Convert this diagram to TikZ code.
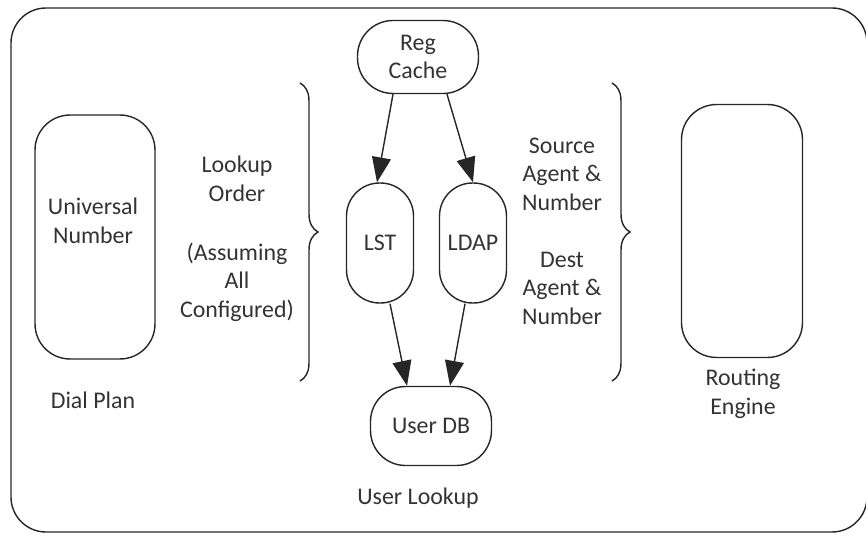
\documentclass[tikz,border=0pt]{standalone}
\usepackage{fontspec}
\setmainfont{Carlito}
\usetikzlibrary{arrows.meta,decorations.pathreplacing}

\begin{document}
\begin{tikzpicture}[x=0.02cm,y=-0.02cm,line width=0.8pt,
  font=\fontsize{13.6}{16.2}\selectfont,
  box/.style={draw=black!85,rounded corners=#1,inner sep=0pt,align=center,text=black!80},
  box/.default=0.7cm,
  lbl/.style={align=center,text=black!80},
  arr/.style={-{Triangle[length=0.5cm,width=0.38cm]},draw=black!85},
  curly/.style={decorate,decoration={brace,amplitude=0.36cm},draw=black!85}]
\useasboundingbox (0,0) rectangle (866,537);
\draw[black!85,rounded corners=0.7cm] (11,8) rectangle (867,532);

% lookup chain
\node[box=0.71cm,minimum width=2.42cm,minimum height=1.46cm] (regcache) at (418,57) {Reg\\Cache};
\node[box=0.66cm,minimum width=1.34cm,minimum height=2.4cm] (lst) at (380,243) {LST};
\node[box=0.66cm,minimum width=1.34cm,minimum height=2.4cm] (ldap) at (473,243) {LDAP};
\node[box,minimum width=2.42cm,minimum height=1.58cm] (userdb) at (431,426) {User DB};

% side boxes
\node[box,minimum width=2.4cm,minimum height=4.88cm] (dialbox) at (95,237) {};
\node[box,minimum width=2.42cm,minimum height=5.06cm] (routebox) at (742,231) {};

\node[lbl] (univ) at (93,221) {Universal\\Number};
\node[lbl] (dialplan) at (93,400) {Dial Plan};
\node[lbl] (routing) at (743,394) {Routing\\Engine};
\node[lbl] (userlookup) at (418,498) {User Lookup};
\node[lbl] (lookup) at (237,179) {Lookup\\Order};
\node[lbl] (assume) at (237,282) {(Assuming\\All\\Configured)};
\node[lbl] (source) at (562,174) {Source\\Agent \&\\Number};
\node[lbl] (dest) at (562,288) {Dest\\Agent \&\\Number};

\draw[curly] (300,83) -- (300,381);
\draw[curly] (612,83) -- (612,381);

\draw[arr] ([xshift=-0.5cm]regcache.south) -- ([xshift=-0.06cm]lst.north);
\draw[arr] ([xshift=0.58cm]regcache.south) -- (ldap.north);
\draw[arr] ([xshift=0.2cm]lst.south) -- ([xshift=-0.48cm]userdb.north);
\draw[arr] ([xshift=-0.16cm]ldap.south) -- ([xshift=0.38cm]userdb.north);
\end{tikzpicture}
\end{document}
